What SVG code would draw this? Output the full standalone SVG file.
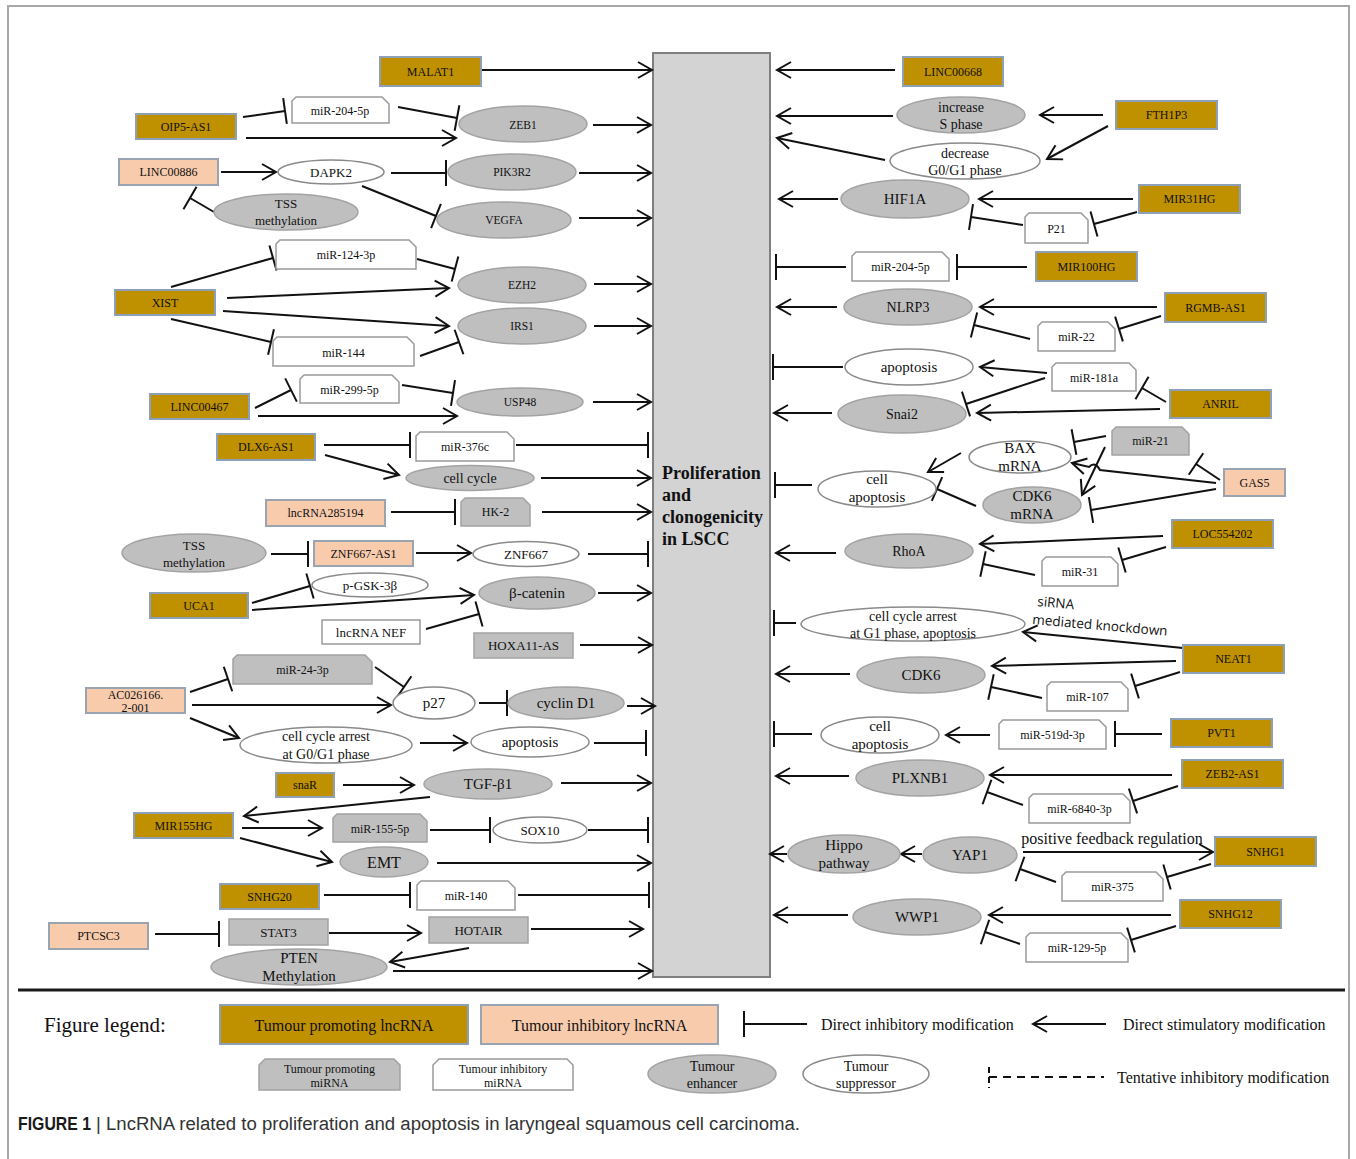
<svg xmlns="http://www.w3.org/2000/svg" width="1356" height="1159" viewBox="0 0 1356 1159">
<style>
text{font-family:"Liberation Serif","Times New Roman",serif;font-size:12px;fill:#111;text-anchor:middle;dominant-baseline:central}
.pl{fill:#bf9000;stroke:#8e9fb8;stroke-width:2}
.il{fill:#f8cbad;stroke:#9aa3b0;stroke-width:2}
.ge{fill:#bfbfbf;stroke:#a3a3a3;stroke-width:1.5}
.we{fill:#fff;stroke:#8a8a8a;stroke-width:1.5}
.gm{fill:#bfbfbf;stroke:#a3a3a3;stroke-width:1.5}
.wm{fill:#fff;stroke:#9a9a9a;stroke-width:1.5}
.gr{fill:#bfbfbf;stroke:#a3a3a3;stroke-width:1.5}
.wr{fill:#fff;stroke:#9a9a9a;stroke-width:1.5}
#connectors path{fill:none;stroke:#111;stroke-width:2}
.a{marker-end:url(#ar)}
.b{marker-end:url(#bar)}
.s11{font-size:11.5px}.s13{font-size:13px}.s14{font-size:14px}.s15{font-size:15px}.s16{font-size:16px}
.lg{font-size:16px;text-anchor:start}
</style>
<defs>
<marker id="ar" viewBox="-16 -9 18 18" refX="0" refY="0" markerWidth="18" markerHeight="18" markerUnits="userSpaceOnUse" orient="auto" overflow="visible"><path d="M-14,-8 L0,0 L-14,8" fill="none" stroke="#111" stroke-width="2"/></marker>
<marker id="bar" viewBox="-2 -13 4 26" refX="0" refY="0" markerWidth="4" markerHeight="26" markerUnits="userSpaceOnUse" orient="auto" overflow="visible"><path d="M0,-13 L0,13" stroke="#111" stroke-width="2"/></marker>
</defs>
<rect width="1356" height="1159" fill="#fff"/>
<path d="M8,1159 V6 H1349 V1159" fill="none" stroke="#a8a8a8" stroke-width="2"/>

<g id="center"><rect x="653" y="53" width="117" height="924" fill="#d3d3d3" stroke="#7f7f7f" stroke-width="2"/>
<text x="662" y="479" style="text-anchor:start;dominant-baseline:auto;font-weight:bold;font-size:18px">Proliferation</text>
<text x="662" y="501" style="text-anchor:start;dominant-baseline:auto;font-weight:bold;font-size:18px">and</text>
<text x="662" y="523" style="text-anchor:start;dominant-baseline:auto;font-weight:bold;font-size:18px">clonogenicity</text>
<text x="662" y="545" style="text-anchor:start;dominant-baseline:auto;font-weight:bold;font-size:18px">in LSCC</text></g>

<g id="connectors">
<path class="a" d="M482,70 L652,70"/>
<path class="b" d="M243,117 L285,111"/>
<path class="b" d="M398,107 L457,118"/>
<path class="a" d="M246,138 L456,138"/>
<path class="a" d="M593,125 L651,125"/>
<path class="a" d="M221,172 L276,172"/>
<path class="b" d="M391,173 L446,173"/>
<path class="a" d="M579,173 L651,173"/>
<path class="b" d="M214,212 L190,198"/>
<path class="b" d="M362,186 L436,216"/>
<path class="a" d="M579,218 L651,218"/>
<path class="b" d="M171,287 L273,258"/>
<path class="b" d="M417,259 L455,269"/>
<path class="a" d="M227,298 L449,288"/>
<path class="a" d="M223,311 L449,326"/>
<path class="b" d="M171,319 L271,342"/>
<path class="b" d="M420,356 L459,342"/>
<path class="a" d="M594,284 L651,284"/>
<path class="a" d="M594,326 L651,326"/>
<path class="b" d="M255,408 L291,390"/>
<path class="b" d="M402,385 L453,393"/>
<path class="a" d="M258,416 L457,416"/>
<path class="a" d="M593,402 L651,402"/>
<path class="b" d="M324,445 L410,445"/>
<path class="b" d="M516,445 L648,445"/>
<path class="a" d="M325,455 L399,475"/>
<path class="a" d="M541,478 L651,478"/>
<path class="b" d="M391,512 L455,512"/>
<path class="a" d="M542,512 L651,512"/>
<path class="b" d="M271,554 L308,554"/>
<path class="a" d="M416,553 L471,553"/>
<path class="b" d="M588,554 L648,554"/>
<path class="b" d="M252,603 L310,586"/>
<path class="a" d="M252,610 L474,595"/>
<path class="b" d="M426,629 L479,614"/>
<path class="a" d="M598,593 L651,593"/>
<path class="a" d="M580,645 L652,645"/>
<path class="b" d="M190,692 L228,679"/>
<path class="b" d="M375,667 L404,687"/>
<path class="a" d="M192,705 L391,705"/>
<path class="b" d="M479,703 L507,703"/>
<path class="a" d="M627,706 L655,706"/>
<path class="a" d="M190,718 L239,738"/>
<path class="a" d="M420,743 L467,743"/>
<path class="b" d="M594,743 L646,743"/>
<path class="a" d="M343,785 L414,785"/>
<path class="a" d="M561,783 L651,783"/>
<path class="a" d="M430,797 L244,816"/>
<path class="a" d="M242,828 L322,828"/>
<path class="b" d="M430,830 L490,830"/>
<path class="b" d="M588,830 L648,830"/>
<path class="a" d="M240,838 L332,862"/>
<path class="a" d="M437,863 L651,863"/>
<path class="b" d="M324,895 L410,895"/>
<path class="b" d="M518,895 L649,895"/>
<path class="b" d="M155,934 L219,934"/>
<path class="a" d="M329,933 L421,933"/>
<path class="a" d="M531,929 L643,929"/>
<path class="a" d="M469,948 L390,962"/>
<path class="a" d="M393,971 L652,971"/>

<path class="a" d="M895,70 L777,70"/>
<path class="a" d="M893,116 L777,116"/>
<path class="a" d="M1103,115 L1040,115"/>
<path class="a" d="M1108,126 L1047,159"/>
<path class="a" d="M885,160 L777,138"/>
<path class="a" d="M838,199 L779,199"/>
<path class="a" d="M1133,199 L979,199"/>
<path class="b" d="M1137,212 L1094,224"/>
<path class="b" d="M1023,225 L971,217"/>
<path class="b" d="M846,267 L776,267"/>
<path class="b" d="M1027,267 L957,267"/>
<path class="a" d="M837,307 L777,307"/>
<path class="a" d="M1157,307 L980,307"/>
<path class="b" d="M1161,316 L1119,329"/>
<path class="b" d="M1030,339 L974,325"/>
<path class="b" d="M843,367 L773,367"/>
<path class="a" d="M1047,373 L980,367"/>
<path class="b" d="M1045,378 L966,404"/>
<path class="a" d="M832,413 L774,413"/>
<path class="a" d="M1160,409 L977,413"/>
<path class="b" d="M1166,402 L1142,388"/>
<path class="b" d="M1106,436 L1074,442"/>
<path class="a" d="M1105,447 L1082,495"/>
<path class="a" d="M961,453 L928,472"/>
<path class="b" d="M812,485 L775,485"/>
<path class="b" d="M976,506 L937,489"/>
<path class="a" d="M1216,483 L1100,470 Q1095,461 1089,467 L1072,463"/>
<path class="b" d="M1216,489 L1091,510"/>
<path class="b" d="M1220,480 L1196,464"/>
<path class="a" d="M1163,536 L980,544"/>
<path class="a" d="M836,553 L776,553"/>
<path class="b" d="M1166,547 L1122,560"/>
<path class="b" d="M1035,575 L983,564"/>
<path class="b" d="M796,623 L774,623"/>
<path class="a" d="M1183,648 L1023,632"/>
<path class="a" d="M1176,661 L992,666"/>
<path class="a" d="M850,674 L776,674"/>
<path class="b" d="M1180,672 L1135,686"/>
<path class="b" d="M1042,698 L991,687"/>
<path class="b" d="M812,734 L774,734"/>
<path class="a" d="M990,735 L946,735"/>
<path class="b" d="M1162,734 L1115,734"/>
<path class="a" d="M849,776 L776,776"/>
<path class="a" d="M1172,775 L990,775"/>
<path class="b" d="M1178,786 L1133,801"/>
<path class="b" d="M1023,805 L987,792"/>
<path class="a" d="M787,854 L770,854"/>
<path class="a" d="M922,854 L901,854"/>
<path class="a" d="M1023,852 L1213,852"/>
<path class="b" d="M1211,864 L1167,877"/>
<path class="b" d="M1056,882 L1020,869"/>
<path class="a" d="M848,915 L774,915"/>
<path class="a" d="M1171,915 L989,915"/>
<path class="b" d="M1176,926 L1131,940"/>
<path class="b" d="M1020,944 L985,932"/>
</g>

<g id="MALAT1"><rect class="pl" x="380" y="57" width="101" height="29"/><text x="430.5" y="71.5">MALAT1</text></g>
<g id="OIP5-AS1"><rect class="pl" x="136" y="114" width="100" height="25"/><text x="186" y="126.5">OIP5-AS1</text></g>
<g id="miR-204-5p-L"><path class="wm" d="M292,101 L296,97 L382,97 L389,104 L389,123 L292,123 Z"/><text x="340" y="111">miR-204-5p</text></g>
<g id="ZEB1"><ellipse class="ge" cx="523" cy="124" rx="64" ry="18"/><text class="s11" x="523" y="125">ZEB1</text></g>
<g id="LINC00886"><rect class="il" x="119" y="159" width="99" height="26"/><text x="168.5" y="172">LINC00886</text></g>
<g id="DAPK2"><ellipse class="we" cx="331" cy="172" rx="53" ry="12"/><text class="s13" x="331" y="172">DAPK2</text></g>
<g id="PIK3R2"><ellipse class="ge" cx="512" cy="172" rx="64" ry="18"/><text class="s11" x="512" y="172">PIK3R2</text></g>
<g id="TSS-methylation-1"><ellipse class="ge" cx="286" cy="212" rx="72" ry="18"/><text class="s13" x="286" y="203">TSS</text><text class="s13" x="286" y="220">methylation</text></g>
<g id="VEGFA"><ellipse class="ge" cx="504" cy="220" rx="67" ry="18"/><text class="s11" x="504" y="220">VEGFA</text></g>
<g id="miR-124-3p"><path class="wm" d="M276,244 L280,240 L409,240 L416,247 L416,269 L276,269 Z"/><text x="346" y="255">miR-124-3p</text></g>
<g id="XIST"><rect class="pl" x="115" y="290" width="100" height="25"/><text x="165" y="302.5">XIST</text></g>
<g id="EZH2"><ellipse class="ge" cx="522" cy="285" rx="64" ry="18"/><text class="s11" x="522" y="285">EZH2</text></g>
<g id="IRS1"><ellipse class="ge" cx="522" cy="326" rx="64" ry="18"/><text class="s11" x="522" y="326">IRS1</text></g>
<g id="miR-144"><path class="wm" d="M273,341 L277,337 L407,337 L414,344 L414,366 L273,366 Z"/><text x="343.5" y="353">miR-144</text></g>
<g id="LINC00467"><rect class="pl" x="150" y="394" width="99" height="25"/><text x="199.5" y="406.5">LINC00467</text></g>
<g id="miR-299-5p"><path class="wm" d="M300,379 L304,375 L392,375 L399,382 L399,403 L300,403 Z"/><text x="349.5" y="390">miR-299-5p</text></g>
<g id="USP48"><ellipse class="ge" cx="520" cy="402" rx="63" ry="14"/><text class="s11" x="520" y="402">USP48</text></g>
<g id="DLX6-AS1"><rect class="pl" x="217" y="434" width="98" height="26"/><text x="266" y="447">DLX6-AS1</text></g>
<g id="miR-376c"><path class="wm" d="M416,436 L420,432 L507,432 L514,439 L514,461 L416,461 Z"/><text x="465" y="447">miR-376c</text></g>
<g id="cell-cycle"><ellipse class="ge" cx="470" cy="478" rx="64" ry="12.5"/><text class="s14" x="470" y="478">cell cycle</text></g>
<g id="lncRNA285194"><rect class="il" x="266" y="500" width="119" height="26"/><text x="325.5" y="513">lncRNA285194</text></g>
<g id="HK-2"><path class="gm" d="M461,502 L465,498 L523,498 L530,505 L530,526 L461,526 Z"/><text x="495.5" y="512">HK-2</text></g>
<g id="TSS-methylation-2"><ellipse class="ge" cx="194" cy="553" rx="72" ry="19"/><text class="s13" x="194" y="545">TSS</text><text class="s13" x="194" y="562">methylation</text></g>
<g id="ZNF667-AS1"><rect class="il" x="314" y="541" width="99" height="25"/><text x="363.5" y="553.5">ZNF667-AS1</text></g>
<g id="ZNF667"><ellipse class="we" cx="526" cy="554" rx="53" ry="12.5"/><text class="s13" x="526" y="554">ZNF667</text></g>
<g id="p-GSK-3b"><ellipse class="we" cx="370" cy="585" rx="58" ry="12"/><text class="s13" x="370" y="585">p-GSK-3β</text></g>
<g id="UCA1"><rect class="pl" x="150" y="593" width="98" height="25"/><text x="199" y="605.5">UCA1</text></g>
<g id="b-catenin"><ellipse class="ge" cx="537" cy="593" rx="58" ry="16"/><text class="s15" x="537" y="593">β-catenin</text></g>
<g id="lncRNA-NEF"><rect class="wr" x="322" y="620" width="98" height="24"/><text class="s13" x="371" y="632">lncRNA NEF</text></g>
<g id="HOXA11-AS"><rect class="gr" x="474" y="633" width="99" height="25"/><text class="s13" x="523.5" y="645.5">HOXA11-AS</text></g>
<g id="AC026166.2-001"><rect class="il" x="86" y="688" width="99" height="25"/><text x="135.5" y="694.5">AC026166.</text><text x="135.5" y="707.5">2-001</text></g>
<g id="miR-24-3p"><path class="gm" d="M233,659 L237,655 L365,655 L372,662 L372,684 L233,684 Z"/><text x="302.5" y="670">miR-24-3p</text></g>
<g id="p27"><ellipse class="we" cx="434" cy="703" rx="41" ry="16"/><text class="s15" x="434" y="703">p27</text></g>
<g id="cyclin-D1"><ellipse class="ge" cx="566" cy="703" rx="58" ry="16"/><text class="s15" x="566" y="703">cyclin D1</text></g>
<g id="cell-cycle-arrest-G0G1"><ellipse class="we" cx="326" cy="745" rx="86" ry="18"/><text class="s14" x="326" y="736">cell cycle arrest</text><text class="s14" x="326" y="754">at G0/G1 phase</text></g>
<g id="apoptosis-L"><ellipse class="we" cx="530" cy="742" rx="59" ry="15"/><text class="s15" x="530" y="742">apoptosis</text></g>
<g id="snaR"><rect class="pl" x="276" y="773" width="58" height="24"/><text x="305" y="785">snaR</text></g>
<g id="TGF-b1"><ellipse class="ge" cx="488" cy="784" rx="64" ry="15"/><text class="s15" x="488" y="784">TGF-β1</text></g>
<g id="MIR155HG"><rect class="pl" x="134" y="813" width="99" height="25"/><text x="183.5" y="825.5">MIR155HG</text></g>
<g id="miR-155-5p"><path class="gm" d="M333,818 L337,814 L420,814 L427,821 L427,842 L333,842 Z"/><text x="380" y="829">miR-155-5p</text></g>
<g id="SOX10"><ellipse class="we" cx="540" cy="830" rx="47" ry="13"/><text class="s13" x="540" y="830">SOX10</text></g>
<g id="EMT"><ellipse class="ge" cx="384" cy="862" rx="44" ry="15"/><text class="s16" x="384" y="862">EMT</text></g>
<g id="SNHG20"><rect class="pl" x="220" y="884" width="99" height="25"/><text x="269.5" y="896.5">SNHG20</text></g>
<g id="miR-140"><path class="wm" d="M417,885 L421,881 L508,881 L515,888 L515,910 L417,910 Z"/><text x="466" y="896">miR-140</text></g>
<g id="PTCSC3"><rect class="il" x="49" y="923" width="99" height="26"/><text x="98.5" y="936">PTCSC3</text></g>
<g id="STAT3"><rect class="gr" x="229" y="919" width="99" height="26"/><text class="s13" x="278.5" y="932">STAT3</text></g>
<g id="HOTAIR"><rect class="gr" x="429" y="917" width="99" height="26"/><text class="s13" x="478.5" y="930">HOTAIR</text></g>
<g id="PTEN-Methylation"><ellipse class="ge" cx="299" cy="967" rx="88" ry="18"/><text class="s15" x="299" y="958">PTEN</text><text class="s15" x="299" y="976">Methylation</text></g>

<g id="LINC00668"><rect class="pl" x="903" y="57" width="100" height="29"/><text x="953" y="71.5">LINC00668</text></g>
<g id="increase-S-phase"><ellipse class="ge" cx="961" cy="115" rx="64" ry="18"/><text class="s14" x="961" y="107">increase</text><text class="s14" x="961" y="124">S phase</text></g>
<g id="FTH1P3"><rect class="pl" x="1116" y="101" width="101" height="28"/><text x="1166.5" y="115">FTH1P3</text></g>
<g id="decrease-G0G1"><ellipse class="we" cx="965" cy="161" rx="75" ry="18"/><text class="s14" x="965" y="153">decrease</text><text class="s14" x="965" y="170">G0/G1 phase</text></g>
<g id="HIF1A"><ellipse class="ge" cx="905" cy="199" rx="64" ry="19"/><text class="s15" x="905" y="199">HIF1A</text></g>
<g id="MIR31HG"><rect class="pl" x="1139" y="185" width="101" height="28"/><text x="1189.5" y="199">MIR31HG</text></g>
<g id="P21"><path class="wm" d="M1025,217 L1029,213 L1081,213 L1088,220 L1088,243 L1025,243 Z"/><text x="1056.5" y="229">P21</text></g>
<g id="miR-204-5p-R"><path class="wm" d="M852,256 L856,252 L942,252 L949,259 L949,281 L852,281 Z"/><text x="900.5" y="267">miR-204-5p</text></g>
<g id="MIR100HG"><rect class="pl" x="1036" y="252" width="101" height="29"/><text x="1086.5" y="266.5">MIR100HG</text></g>
<g id="NLRP3"><ellipse class="ge" cx="908" cy="307" rx="64" ry="18"/><text class="s14" x="908" y="307">NLRP3</text></g>
<g id="RGMB-AS1"><rect class="pl" x="1165" y="293" width="101" height="29"/><text x="1215.5" y="307.5">RGMB-AS1</text></g>
<g id="miR-22"><path class="wm" d="M1038,326 L1042,322 L1108,322 L1115,329 L1115,351 L1038,351 Z"/><text x="1076.5" y="337">miR-22</text></g>
<g id="apoptosis-R"><ellipse class="we" cx="909" cy="367" rx="64" ry="18"/><text class="s15" x="909" y="367">apoptosis</text></g>
<g id="miR-181a"><path class="wm" d="M1052,367 L1056,363 L1129,363 L1136,370 L1136,391 L1052,391 Z"/><text x="1094" y="378">miR-181a</text></g>
<g id="Snai2"><ellipse class="ge" cx="902" cy="414" rx="64" ry="19"/><text class="s14" x="902" y="414">Snai2</text></g>
<g id="ANRIL"><rect class="pl" x="1170" y="390" width="101" height="28"/><text x="1220.5" y="404">ANRIL</text></g>
<g id="miR-21"><path class="gm" d="M1112,431 L1116,427 L1182,427 L1189,434 L1189,455 L1112,455 Z"/><text x="1150.5" y="441">miR-21</text></g>
<g id="BAX-mRNA"><ellipse class="we" cx="1020" cy="457" rx="51" ry="16"/><text class="s15" x="1020" y="448">BAX</text><text class="s15" x="1020" y="466">mRNA</text></g>
<g id="cell-apoptosis-1"><ellipse class="we" cx="877" cy="489" rx="59" ry="18"/><text class="s15" x="877" y="479">cell</text><text class="s15" x="877" y="497">apoptosis</text></g>
<g id="CDK6-mRNA"><ellipse class="ge" cx="1032" cy="505" rx="49" ry="18"/><text class="s15" x="1032" y="496">CDK6</text><text class="s15" x="1032" y="514">mRNA</text></g>
<g id="GAS5"><rect class="il" x="1224" y="469" width="61" height="27"/><text x="1254.5" y="482.5">GAS5</text></g>
<g id="RhoA"><ellipse class="ge" cx="909" cy="551" rx="64" ry="17"/><text class="s14" x="909" y="551">RhoA</text></g>
<g id="LOC554202"><rect class="pl" x="1172" y="520" width="101" height="28"/><text x="1222.5" y="534">LOC554202</text></g>
<g id="miR-31"><path class="wm" d="M1042,561 L1046,557 L1111,557 L1118,564 L1118,586 L1042,586 Z"/><text x="1080" y="572">miR-31</text></g>
<g id="cell-cycle-arrest-G1"><ellipse class="we" cx="913" cy="624" rx="112" ry="17"/><text class="s14" x="913" y="616">cell cycle arrest</text><text class="s14" x="913" y="633">at G1 phase, apoptosis</text></g>
<g id="siRNA-label"><text transform="rotate(5 1037 606)" x="1037" y="606" style="font-family:'Open Sans','DejaVu Sans',sans-serif;font-size:13.5px;text-anchor:start;dominant-baseline:auto">siRNA</text><text transform="rotate(5 1032 624)" x="1032" y="624" style="font-family:'Open Sans','DejaVu Sans',sans-serif;font-size:13.5px;text-anchor:start;dominant-baseline:auto">mediated knockdown</text></g>
<g id="NEAT1"><rect class="pl" x="1183" y="645" width="101" height="28"/><text x="1233.5" y="659">NEAT1</text></g>
<g id="CDK6"><ellipse class="ge" cx="921" cy="675" rx="64" ry="18"/><text class="s15" x="921" y="675">CDK6</text></g>
<g id="miR-107"><path class="wm" d="M1047,686 L1051,682 L1121,682 L1128,689 L1128,711 L1047,711 Z"/><text x="1087.5" y="697">miR-107</text></g>
<g id="cell-apoptosis-2"><ellipse class="we" cx="880" cy="735" rx="59" ry="18"/><text class="s15" x="880" y="726">cell</text><text class="s15" x="880" y="744">apoptosis</text></g>
<g id="miR-519d-3p"><path class="wm" d="M999,724 L1003,720 L1099,720 L1106,727 L1106,749 L999,749 Z"/><text x="1052.5" y="735">miR-519d-3p</text></g>
<g id="PVT1"><rect class="pl" x="1171" y="719" width="101" height="28"/><text x="1221.5" y="733">PVT1</text></g>
<g id="PLXNB1"><ellipse class="ge" cx="920" cy="778" rx="64" ry="18"/><text class="s15" x="920" y="778">PLXNB1</text></g>
<g id="ZEB2-AS1"><rect class="pl" x="1182" y="760" width="101" height="28"/><text x="1232.5" y="774">ZEB2-AS1</text></g>
<g id="miR-6840-3p"><path class="wm" d="M1029,798 L1033,794 L1123,794 L1130,801 L1130,823 L1029,823 Z"/><text x="1079.5" y="809">miR-6840-3p</text></g>
<g id="Hippo-pathway"><ellipse class="ge" cx="844" cy="854" rx="56" ry="19"/><text class="s15" x="844" y="845">Hippo</text><text class="s15" x="844" y="863">pathway</text></g>
<g id="YAP1"><ellipse class="ge" cx="970" cy="855" rx="47" ry="18"/><text class="s15" x="970" y="855">YAP1</text></g>
<g id="feedback-label"><text class="s16" x="1112" y="838">positive feedback regulation</text></g>
<g id="SNHG1"><rect class="pl" x="1215" y="837" width="101" height="29"/><text x="1265.5" y="851.5">SNHG1</text></g>
<g id="miR-375"><path class="wm" d="M1062,876 L1066,872 L1156,872 L1163,879 L1163,901 L1062,901 Z"/><text x="1112.5" y="887">miR-375</text></g>
<g id="WWP1"><ellipse class="ge" cx="917" cy="917" rx="64" ry="18"/><text class="s15" x="917" y="917">WWP1</text></g>
<g id="SNHG12"><rect class="pl" x="1180" y="900" width="101" height="28"/><text x="1230.5" y="914">SNHG12</text></g>
<g id="miR-129-5p"><path class="wm" d="M1026,937 L1030,933 L1121,933 L1128,940 L1128,962 L1026,962 Z"/><text x="1077" y="948">miR-129-5p</text></g>

<line x1="18" y1="990" x2="1345" y2="990" stroke="#1a1a1a" stroke-width="3"/>
<g id="legend">
<text x="44" y="1025" style="font-size:21px;text-anchor:start">Figure legend:</text>
<rect class="pl" x="220" y="1005" width="248" height="39"/><text class="s16" x="344" y="1025">Tumour promoting lncRNA</text>
<rect class="il" x="481" y="1005" width="237" height="39"/><text class="s16" x="599.5" y="1025">Tumour inhibitory lncRNA</text>
<path d="M807,1024 L744,1024" fill="none" stroke="#111" stroke-width="2" marker-end="url(#bar)"/>
<text class="lg" x="821" y="1024">Direct inhibitory modification</text>
<path d="M1106,1024 L1033,1024" fill="none" stroke="#111" stroke-width="2" marker-end="url(#ar)"/>
<text class="lg" x="1123" y="1024">Direct stimulatory modification</text>
<path class="gm" d="M259,1065 L265,1059 L394,1059 L400,1065 L400,1090 L259,1090 Z"/><text x="329.5" y="1069">Tumour promoting</text><text x="329.5" y="1083">miRNA</text>
<path class="wm" d="M433,1065 L439,1059 L567,1059 L573,1065 L573,1090 L433,1090 Z"/><text x="503" y="1069">Tumour inhibitory</text><text x="503" y="1083">miRNA</text>
<ellipse class="ge" cx="712" cy="1074" rx="64" ry="19"/><text class="s14" x="712" y="1066">Tumour</text><text class="s14" x="712" y="1083">enhancer</text>
<ellipse class="we" cx="866" cy="1074" rx="63" ry="19"/><text class="s14" x="866" y="1066">Tumour</text><text class="s14" x="866" y="1083">suppressor</text>
<path d="M989,1067 L989,1088" fill="none" stroke="#111" stroke-width="2" stroke-dasharray="6,4"/>
<path d="M989,1077 L1104,1077" fill="none" stroke="#111" stroke-width="2" stroke-dasharray="8,6"/>
<text class="lg" x="1117" y="1077">Tentative inhibitory modification</text>
</g>
<g id="caption">
<text x="18" y="1124" textLength="73" lengthAdjust="spacingAndGlyphs" style="font-family:'Liberation Sans',Arial,sans-serif;font-size:18px;font-weight:bold;text-anchor:start;fill:#1a1a1a">FIGURE 1</text>
<text x="96" y="1124" textLength="704" lengthAdjust="spacingAndGlyphs" style="font-family:'Liberation Sans',Arial,sans-serif;font-size:18px;text-anchor:start;fill:#333">| LncRNA related to proliferation and apoptosis in laryngeal squamous cell carcinoma.</text>
</g>
</svg>
